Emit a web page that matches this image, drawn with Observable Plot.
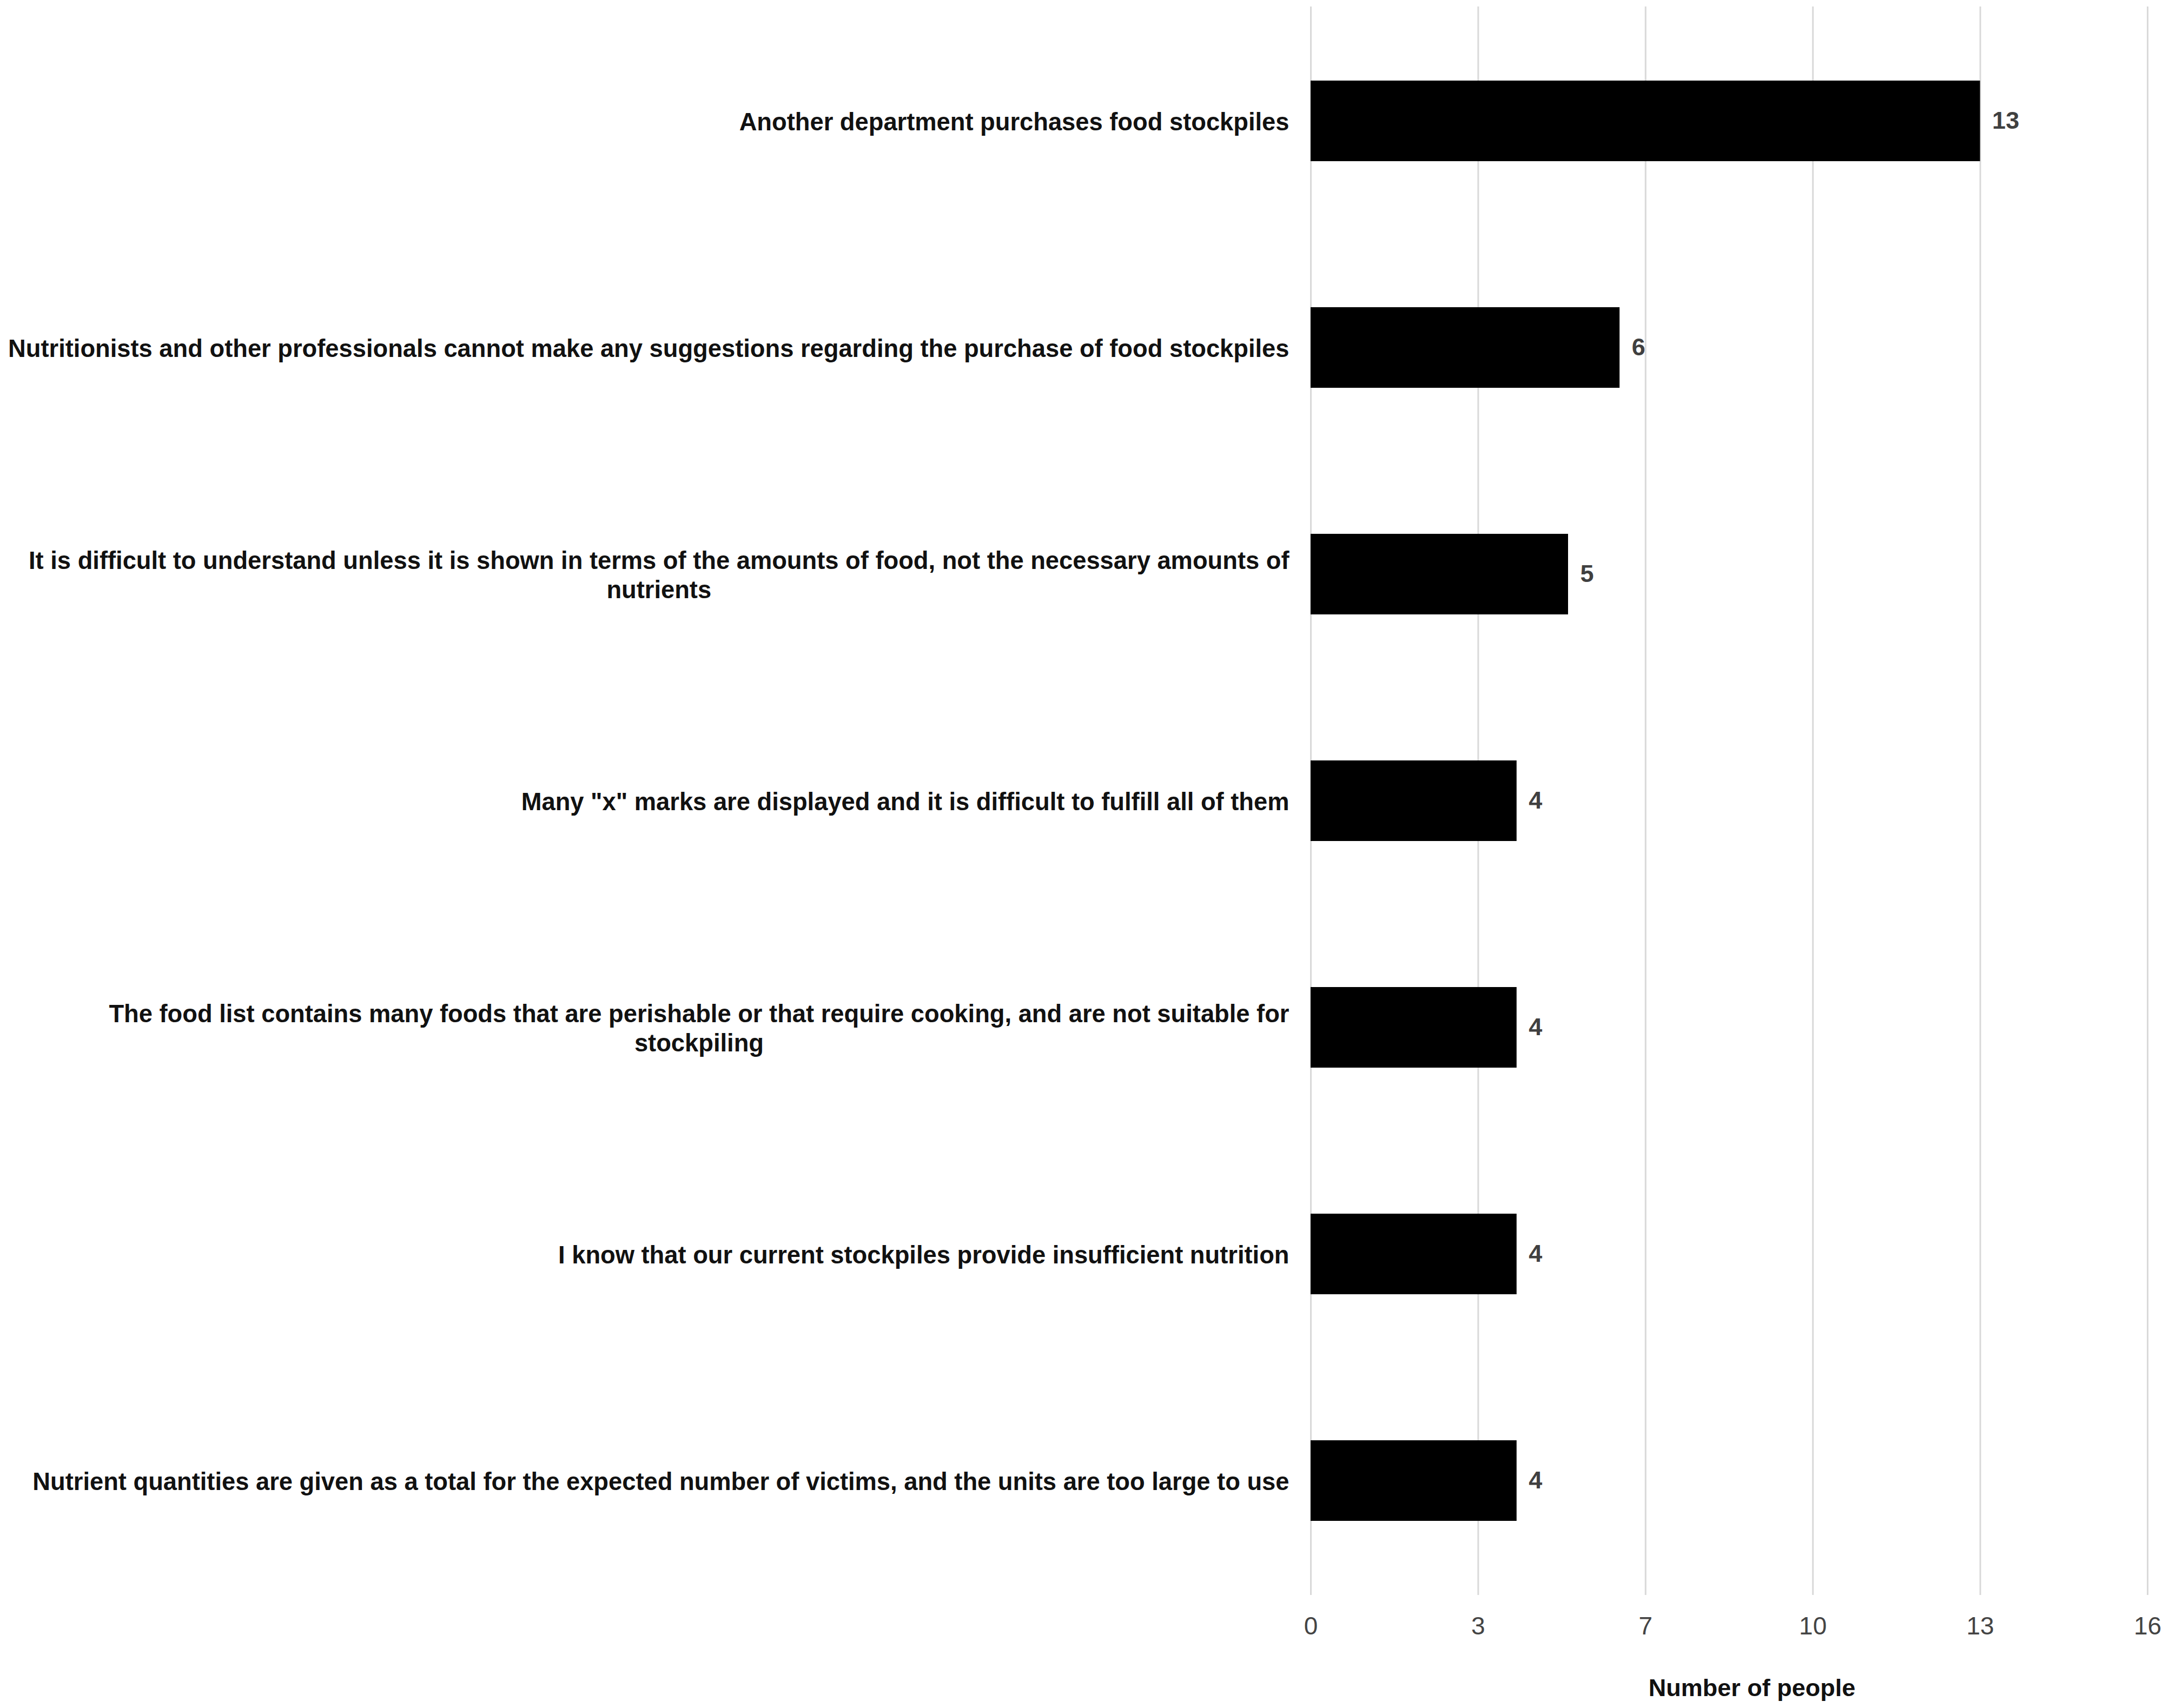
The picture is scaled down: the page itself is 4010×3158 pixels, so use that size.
<!DOCTYPE html>
<html>
<head>
<meta charset="utf-8">
<script src="https://cdn.jsdelivr.net/npm/d3@7"></script>
<script src="https://cdn.jsdelivr.net/npm/@observablehq/plot@0.6"></script>
<style>
  html, body { margin: 0; padding: 0; background: #fff; }
  #chart { width: 4010px; height: 3158px; }
  svg { font-family: "Liberation Sans", Arial, sans-serif; }
</style>
</head>
<body>
<div id="chart"></div>
<script>
const categories = [
  "Another department purchases food stockpiles",
  "Nutritionists and other professionals cannot make any suggestions regarding the purchase of food stockpiles",
  "It is difficult to understand unless it is shown in terms of the amounts of food, not the necessary amounts of\nnutrients",
  "Many \"x\" marks are displayed and it is difficult to fulfill all of them",
  "The food list contains many foods that are perishable or that require cooking, and are not suitable for\nstockpiling",
  "I know that our current stockpiles provide insufficient nutrition",
  "Nutrient quantities are given as a total for the expected number of victims, and the units are too large to use"
];
const values = [13, 6, 5, 4, 4, 4, 4];
const xTicks = [0, 3.25, 6.5, 9.75, 13, 16.25];
const xLabel = "Number of people";

const data = categories.map((c, i) => ({category: c, value: values[i]}));

const chart = Plot.plot({
  width: 4010,
  height: 3158,
  marginTop: 12,
  marginBottom: 209,
  marginLeft: 2423,
  marginRight: 40,
  style: {fontFamily: "Liberation Sans, Arial, sans-serif", background: "#fff"},
  x: {domain: [0, 16.25], ticks: xTicks, tickFormat: d => String(Math.round(d)), label: null},
  y: {domain: categories, paddingInner: 0.645, paddingOuter: 0.3225, label: null},
  marks: [
    Plot.gridX(xTicks, {stroke: "#d9d9d9", strokeOpacity: 1, strokeWidth: 3}),
    Plot.barX(data, {x: "value", y: "category", fill: "#000"}),
    Plot.text(data, {x: "value", y: "category", text: d => String(d.value), textAnchor: "start", dx: 22,
      fontSize: 45, fontWeight: "bold", fill: "#404040"}),
    Plot.axisX(xTicks, {tickSize: 0, tickPadding: 40, fontSize: 46, fill: "#444", tickFormat: d => String(Math.round(d)), label: null}),
    Plot.axisY({tickSize: 0, tickPadding: 40, fontSize: 45.3, fontWeight: "bold", fill: "#111", label: null, lineHeight: 1.19}),
    Plot.text([xLabel], {frameAnchor: "bottom", dx: 42, dy: 186, fontSize: 45, fontWeight: "bold", fill: "#111", text: d => d})
  ]
});
document.getElementById("chart").appendChild(chart);

// center multi-line category labels relative to each other, block right-aligned
chart.querySelectorAll("g[aria-label='y-axis tick label'] text").forEach(t => {
  const spans = t.querySelectorAll("tspan");
  if (spans.length > 1) {
    let maxW = 0;
    spans.forEach(s => { maxW = Math.max(maxW, s.getComputedTextLength()); });
    t.setAttribute("text-anchor", "middle");
    t.style.textAnchor = "middle";
    const curX = +(t.getAttribute("x") || 0);
    t.setAttribute("x", curX - maxW / 2);
    spans.forEach(s => { if (s.hasAttribute("x")) s.setAttribute("x", curX - maxW / 2); });
  }
});
</script>
</body>
</html>
